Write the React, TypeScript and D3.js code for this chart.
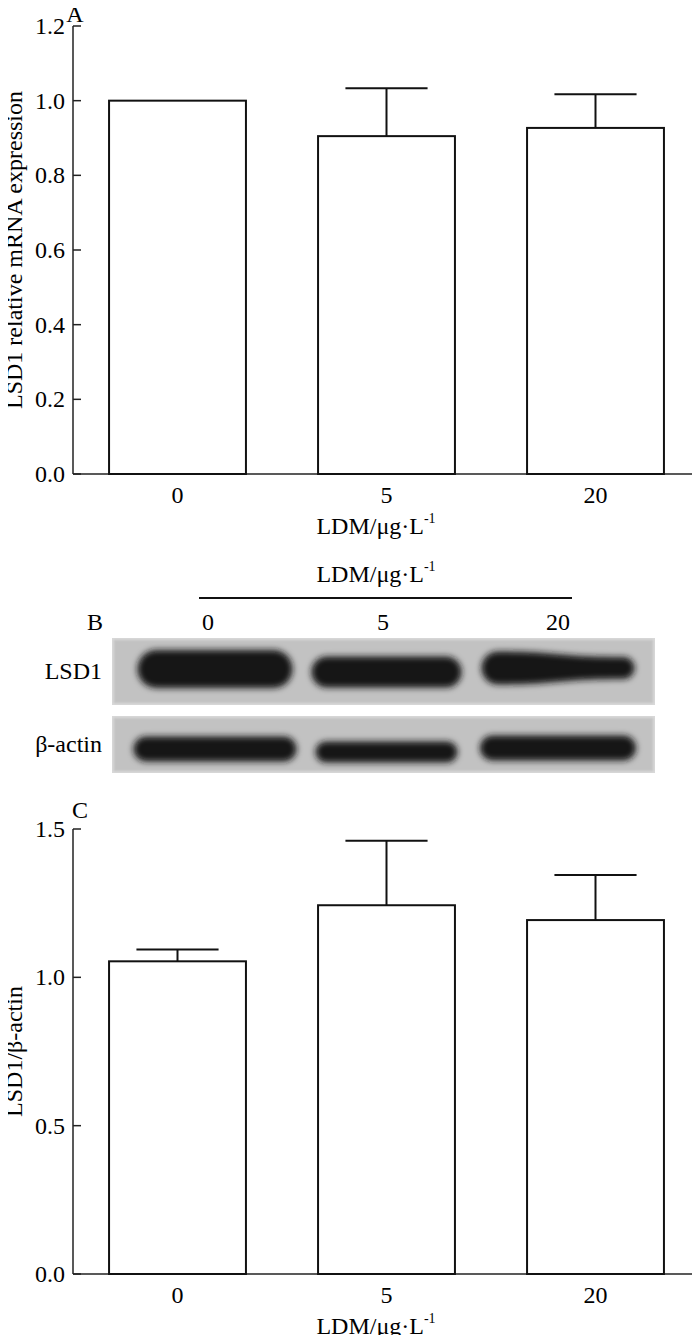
import React from "react";
import * as d3 from "d3";

const doses = ["0", "5", "20"];

// panel A: qPCR
const mrnaMean = [1.0, 0.905, 0.927];
const mrnaErr = [0, 0.128, 0.09];
const mrnaTicks = [0, 0.2, 0.4, 0.6, 0.8, 1.0, 1.2];

// panel C: densitometry
const proteinMean = [1.054, 1.243, 1.193];
const proteinErr = [0.04, 0.217, 0.152];
const proteinTicks = [0, 0.5, 1.0, 1.5];

// panel B: blot band thickness (left, right) per lane
const lsd1Band = [[38, 38], [31, 31], [33, 22]];
const actinBand = [[25, 25], [21, 21], [25, 25]];
const blotRows = ["LSD1", "β-actin"];

const W = 700;
const H = 1343;
const FONT = "'Liberation Serif', 'Times New Roman', serif";
const FS = 24;

const xScale = d3
  .scaleBand()
  .domain(doses)
  .range([73, 700])
  .paddingInner(0.345)
  .paddingOuter(0.1725);

const fmt = d3.format(".1f");

const XTitle = ({ x, y }) => (
  <text x={x} y={y} textAnchor="middle" fontSize={FS}>
    LDM/μg·L
    <tspan dy={-11} fontSize={14}>-1</tspan>
  </text>
);

const BarPanel = ({ top, bottom, ticks, means, errs, yTitle, letter, letterPos }) => {
  const max = ticks[ticks.length - 1];
  const y = d3.scaleLinear().domain([0, max]).range([bottom, top]);
  const x0 = xScale.range()[0];
  const bw = xScale.bandwidth();
  const cap = bw * 0.6;
  return (
    <g>
      <text x={letterPos[0]} y={letterPos[1]} textAnchor="middle" fontSize={FS}>
        {letter}
      </text>
      {/* axes */}
      <line x1={x0} x2={x0} y1={top} y2={bottom} stroke="#222" strokeWidth={1.5} />
      <line x1={x0} x2={700} y1={bottom} y2={bottom} stroke="#222" strokeWidth={1.5} />
      {ticks.map(t => (
        <g key={t}>
          <line x1={x0} x2={x0 + 8} y1={y(t)} y2={y(t)} stroke="#222" strokeWidth={1.5} />
          <text x={x0 - 8} y={y(t)} dy="0.33em" textAnchor="end" fontSize={FS}>
            {fmt(t)}
          </text>
        </g>
      ))}
      {/* bars */}
      {doses.map((d, i) => {
        const cx = xScale(d) + bw / 2;
        return (
          <g key={d}>
            {errs[i] > 0 && (
              <g stroke="#111" strokeWidth={2}>
                <line x1={cx} x2={cx} y1={y(means[i])} y2={y(means[i] + errs[i])} />
                <line x1={cx - cap / 2} x2={cx + cap / 2} y1={y(means[i] + errs[i])} y2={y(means[i] + errs[i])} />
              </g>
            )}
            <rect
              x={xScale(d)}
              y={y(means[i])}
              width={bw}
              height={bottom - y(means[i])}
              fill="white"
              stroke="#111"
              strokeWidth={2}
            />
            <text x={cx} y={bottom + 29} textAnchor="middle" fontSize={FS}>
              {d}
            </text>
          </g>
        );
      })}
      <XTitle x={376} y={bottom + 60} />
      <text
        transform={`translate(22 ${(top + bottom) / 2}) rotate(-90)`}
        textAnchor="middle"
        fontSize={FS}
      >
        {yTitle}
      </text>
    </g>
  );
};

const laneX = d3.scalePoint().domain(doses).range([215, 558]);

const BlotRow = ({ top, bottom, bands, label, widths, centerY }) => {
  const pts = bands.map((b, i) => {
    const cx = laneX(doses[i]);
    const w = widths[i];
    const l = cx - w / 2;
    const r = cx + w / 2;
    const [tl, tr] = b;
    const cy = centerY[i];
    const path = d3.path();
    path.moveTo(l + tl / 2, cy - tl / 2);
    path.bezierCurveTo(cx, cy - tl / 2, cx, cy - tr / 2, r - tr / 2, cy - tr / 2);
    path.arc(r - tr / 2, cy, tr / 2, -Math.PI / 2, Math.PI / 2);
    path.bezierCurveTo(cx, cy + tr / 2, cx, cy + tl / 2, l + tl / 2, cy + tl / 2);
    path.arc(l + tl / 2, cy, tl / 2, Math.PI / 2, (3 * Math.PI) / 2);
    path.closePath();
    return path.toString();
  });
  return (
    <g>
      <rect x={112} y={top} width={543} height={bottom - top} fill="#d8d8d8" />
      <rect x={114} y={top + 2} width={539} height={bottom - top - 4} fill="#c2c2c2" filter="url(#soft)" />
      {pts.map((p, i) => (
        <path key={i} d={p} fill="#151515" filter="url(#blur)" />
      ))}
      <text x={102} y={(top + bottom) / 2} dy="0.33em" textAnchor="end" fontSize={FS}>
        {label}
      </text>
    </g>
  );
};

export default function App() {
  return (
    <svg width={W} height={H} style={{ display: "block", margin: "-8px", fontFamily: FONT }}>
      <defs>
        <filter id="blur" x="-10%" y="-60%" width="120%" height="220%">
          <feGaussianBlur stdDeviation={3.2} />
        </filter>
        <filter id="soft">
          <feGaussianBlur stdDeviation={1.2} />
        </filter>
      </defs>
      <rect width={W} height={H} fill="white" />
      <BarPanel
        top={26}
        bottom={474}
        ticks={mrnaTicks}
        means={mrnaMean}
        errs={mrnaErr}
        yTitle="LSD1 relative mRNA expression"
        letter="A"
        letterPos={[75, 22]}
      />
      {/* panel B */}
      <XTitle x={376} y={582} />
      <line x1={199} x2={572} y1={598} y2={598} stroke="#111" strokeWidth={2} />
      <text x={95} y={630} textAnchor="middle" fontSize={FS}>B</text>
      {doses.map(d => (
        <text key={d} x={d === "0" ? 208 : d === "5" ? 383 : 558} y={630} textAnchor="middle" fontSize={FS}>
          {d}
        </text>
      ))}
      <BlotRow
        top={638}
        bottom={705}
        bands={lsd1Band}
        label={blotRows[0]}
        widths={[155, 150, 153]}
        centerY={[669, 672, 668]}
      />
      <BlotRow
        top={716}
        bottom={773}
        bands={actinBand}
        label={blotRows[1]}
        widths={[163, 142, 156]}
        centerY={[749, 752, 748]}
      />
      <BarPanel
        top={829}
        bottom={1274}
        ticks={proteinTicks}
        means={proteinMean}
        errs={proteinErr}
        yTitle="LSD1/β-actin"
        letter="C"
        letterPos={[80, 818]}
      />
    </svg>
  );
}
